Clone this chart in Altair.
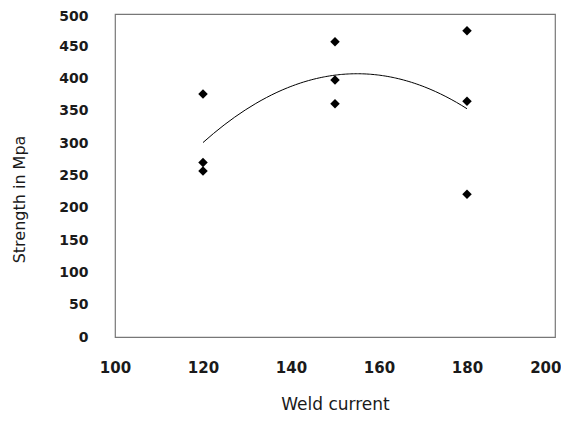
import altair as alt
import pandas as pd

weld_current = [120, 120, 120, 150, 150, 150, 180, 180, 180]
strength = [376, 270, 257, 457, 398, 361, 474, 365, 221]
x_ticks = [100, 120, 140, 160, 180, 200]
y_ticks = [0, 50, 100, 150, 200, 250, 300, 350, 400, 450, 500]

df = pd.DataFrame({"current": weld_current, "strength": strength})

x_enc = alt.X("current:Q", scale=alt.Scale(domain=[100, 200], nice=False, zero=False),
              axis=alt.Axis(values=x_ticks, title="Weld current",
                            grid=False, ticks=False, domain=False, labelPadding=23,
                            labelFontWeight="bold", labelFontSize=15, labelOverlap=False,
                            labelFlush=False,
                            labelAlign={"condition": {"test": "datum.value >= 200", "value": "right"},
                                        "value": "center"},
                            labelOffset={"condition": {"test": "datum.value >= 200", "value": 6},
                                         "value": 0},
                            titleFontSize=17, titleFontWeight="normal",
                            titleBaseline="middle", titleY=67))
y_enc = alt.Y("strength:Q", scale=alt.Scale(domain=[0, 500], nice=False),
              axis=alt.Axis(values=y_ticks, title="Strength in Mpa",
                            grid=False, ticks=False, domain=False, labelPadding=27,
                            labelFontWeight="bold", labelFontSize=14, labelOverlap=False,
                            labelFlush=False,
                            labelOffset={"condition": {"test": "datum.value >= 500", "value": 2},
                                         "value": 0},
                            titleFontSize=16, titleFontWeight="normal",
                            titleBaseline="middle", titleX=-96, titleY=185))

base = alt.Chart(df).encode(x=x_enc, y=y_enc)

points = base.mark_point(shape="diamond", filled=True, color="black", size=90, opacity=1)

trend = base.transform_regression(
    "current", "strength", method="poly", order=2
).mark_line(color="black", strokeWidth=1)

chart = alt.layer(trend, points).properties(
    width=440, height=323,
    autosize=alt.AutoSizeParams(type="none"),
    padding={"left": 107, "top": 6, "right": 6, "bottom": 76},
).configure_view(stroke="#777", strokeWidth=1.2).configure_axis(
    labelFont="DejaVu Sans", titleFont="DejaVu Sans", labelColor="#1a1a1a", titleColor="#1a1a1a"
)

chart.save("out.html", embed_options={"renderer": "svg", "actions": False})
